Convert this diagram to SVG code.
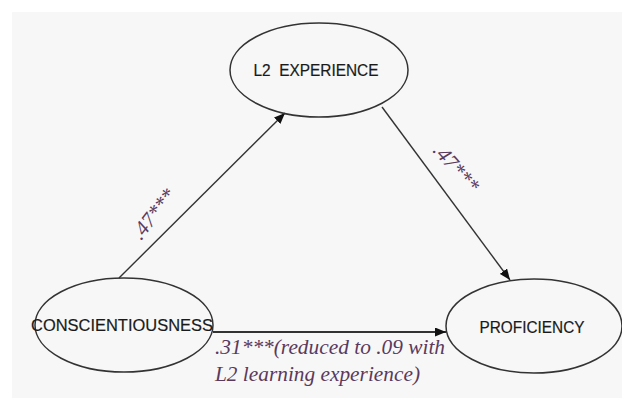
<svg xmlns="http://www.w3.org/2000/svg" width="622" height="398" viewBox="0 0 622 398">
<style>
.node ellipse{fill:none;stroke:#333;stroke-width:1.5}
.node text{font-family:"Liberation Sans",Arial,sans-serif;font-size:17px;fill:#1a1a1a;text-anchor:middle;stroke:#1a1a1a;stroke-width:0.2}
.conn line{stroke:#333;stroke-width:1.4}
.lbl{font-family:"Liberation Serif","Times New Roman",serif;font-style:italic;font-size:21px;fill:#5a3a5c}
</style>
<defs>
<marker id="arr" markerUnits="userSpaceOnUse" markerWidth="12" markerHeight="9" refX="11" refY="4.5" orient="auto">
<path d="M0,0 L11,4.5 L0,9 z" fill="#111"/>
</marker>
</defs>
<rect x="12" y="12" width="610" height="386" fill="#f7f7f7"/>
<g id="connectors" class="conn">
<line x1="119" y1="278" x2="285" y2="113" marker-end="url(#arr)"/>
<line x1="382" y1="107" x2="510" y2="280" marker-end="url(#arr)"/>
<line x1="213" y1="332" x2="446" y2="332" style="stroke-width:2" marker-end="url(#arr)"/>
<text class="lbl" transform="translate(141,241) rotate(-52)">.47***</text>
<text class="lbl" transform="translate(432,151) rotate(48)">.47***</text>
<text class="lbl" x="215" y="354" textLength="230" lengthAdjust="spacingAndGlyphs">.31***(reduced to .09 with</text>
<text class="lbl" x="215" y="381" textLength="205" lengthAdjust="spacingAndGlyphs">L2 learning experience)</text>
</g>
<g id="l2experience" class="node">
<ellipse cx="319" cy="70" rx="89" ry="47"/>
<text x="316" y="76" xml:space="preserve" textLength="125" lengthAdjust="spacingAndGlyphs">L2  EXPERIENCE</text>
</g>
<g id="conscientiousness" class="node">
<ellipse cx="124" cy="325" rx="89" ry="47"/>
<text x="122" y="331" textLength="182" lengthAdjust="spacingAndGlyphs">CONSCIENTIOUSNESS</text>
</g>
<g id="proficiency" class="node">
<ellipse cx="534" cy="326" rx="88" ry="47"/>
<text x="532" y="333" textLength="105" lengthAdjust="spacingAndGlyphs">PROFICIENCY</text>
</g>
</svg>
